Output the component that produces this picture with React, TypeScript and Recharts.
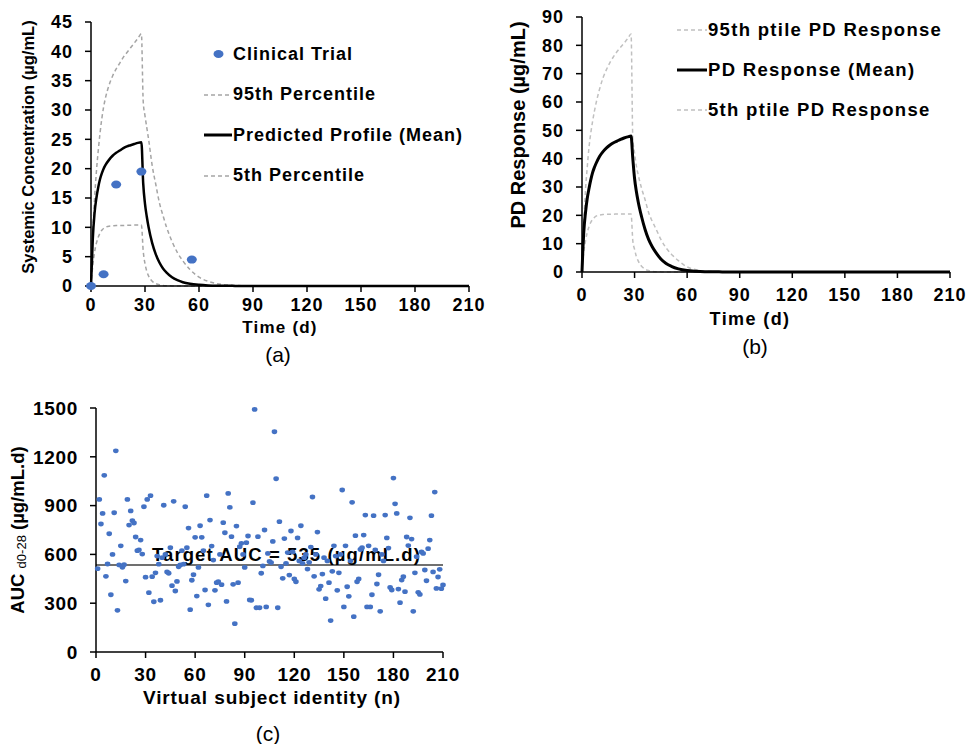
import React from 'react';
import {
  ComposedChart,
  ScatterChart,
  Line,
  Scatter,
  XAxis,
  YAxis,
  ReferenceLine,
  Legend,
} from 'recharts';

const FONT = '"Liberation Sans", Arial, Helvetica, sans-serif';
const BLUE = '#4472c4';

// time grid (days) shared by the simulated profiles in (a) and (b)
const timeDays = [
  0, 0.5, 1, 2, 3, 4, 5, 6, 7, 8, 10, 12, 14, 16, 18, 20, 22, 24, 26, 28,
  29, 30, 31, 32, 34, 36, 38, 40, 42, 45, 48, 51, 55, 60, 65, 70, 80, 90, 120, 150, 180, 210,
];

// (a) systemic concentration, µg/mL
const concMean = [
  0, 4, 8, 12.5, 15, 16.8, 18.2, 19.2, 20, 20.6, 21.5, 22.2, 22.7, 23.1, 23.5, 23.8, 24, 24.2, 24.4, 24.5,
  17.5, 14, 11.8, 10, 7.3, 5.4, 4, 3, 2.3, 1.5, 1, 0.65, 0.38, 0.2, 0.1, 0.05, 0.02, 0.01, 0, 0, 0, 0,
];
const conc95 = [
  0, 5, 9, 15, 19.5, 23, 26, 28.5, 30.5, 32, 34.2, 35.8, 37, 38, 39, 39.8, 40.6, 41.4, 42.2, 43,
  31.5, 29, 27, 25, 20.5, 17.3, 14.2, 12, 10, 7.6, 5.7, 4.3, 2.8, 1.5, 0.8, 0.4, 0.1, 0.03, 0, 0, 0, 0,
];
const conc5 = [
  0, 2, 3.5, 5.8, 7.3, 8.3, 9, 9.5, 9.8, 10, 10.2, 10.25, 10.3, 10.3, 10.3, 10.35, 10.35, 10.4, 10.4, 10.4,
  6, 3.8, 2.5, 1.7, 0.8, 0.4, 0.2, 0.1, 0.05, 0.02, 0, 0, 0, 0, 0, 0, 0, 0, 0, 0, 0, 0,
];
const trialDays = [0, 7, 14, 28, 56];
const trialConc = [0, 2, 17.3, 19.5, 4.5];

// (b) PD response, µg/mL
const pdMean = [
  0, 8, 14, 21, 26, 29.5, 32.5, 35, 36.8, 38.3, 40.8, 42.5, 43.8, 44.8, 45.6, 46.2, 46.8, 47.3, 47.7, 48,
  40, 33, 28.5, 25, 19.5, 15, 11.5, 9, 7, 4.6, 3, 2, 1.1, 0.5, 0.25, 0.12, 0.04, 0.01, 0, 0, 0, 0,
];
const pd95 = [
  0, 10, 17, 29, 37, 44, 49, 53, 56.5, 59.5, 64.5, 68.5, 71.5, 74, 76, 77.8, 79.3, 80.8, 82.3, 84,
  47, 42, 37.5, 34.5, 29.5, 25.5, 21, 18, 15.5, 11.5, 8.5, 6.3, 4, 1.8, 0.8, 0.3, 0.05, 0, 0, 0, 0, 0,
];
const pd5 = [
  0, 4, 7, 11, 14, 16, 17.5, 18.5, 19.2, 19.7, 20.1, 20.3, 20.4, 20.4, 20.4, 20.5, 20.5, 20.5, 20.5, 20.5,
  11, 8, 5.5, 4, 2, 1, 0.5, 0.25, 0.1, 0.05, 0, 0, 0, 0, 0, 0, 0, 0, 0, 0, 0, 0,
];

// (c) AUC d0-28 per virtual subject (subject n = index + 1)
const aucValues = [
  512, 938, 787, 852, 1086, 465, 541, 727, 352, 600, 856, 1237, 256, 535, 653, 521, 537, 436, 938, 780,
  867, 807, 793, 707, 623, 627, 688, 602, 893, 460, 938, 365, 961, 463, 309, 487, 590, 540, 318, 580,
  902, 600, 492, 484, 641, 408, 926, 375, 434, 524, 535, 623, 540, 893, 641, 762, 260, 441, 475, 705,
  344, 520, 776, 705, 623, 381, 961, 290, 811, 651, 565, 379, 426, 432, 600, 414, 795, 733, 311, 975,
  889, 709, 416, 174, 774, 426, 647, 668, 600, 520, 672, 713, 320, 318, 918, 1491, 272, 709, 272, 484,
  529, 750, 277, 606, 557, 550, 680, 1354, 1065, 272, 801, 524, 453, 697, 545, 611, 473, 744, 615, 449,
  432, 701, 560, 776, 545, 580, 600, 510, 551, 645, 953, 465, 600, 737, 385, 405, 479, 580, 328, 560,
  426, 193, 496, 653, 590, 379, 487, 600, 996, 277, 653, 401, 342, 560, 920, 217, 715, 432, 449, 630,
  641, 719, 842, 277, 653, 277, 352, 838, 627, 418, 475, 250, 600, 560, 842, 701, 639, 397, 381, 1069,
  911, 852, 387, 303, 442, 463, 371, 707, 654, 825, 694, 250, 487, 586, 367, 354, 615, 606, 504, 438,
  635, 688, 838, 492, 983, 391, 461, 508, 389, 412,
];
const targetAuc = 535;

const timeTicks = [0, 30, 60, 90, 120, 150, 180, 210];
const concTicks = [0, 5, 10, 15, 20, 25, 30, 35, 40, 45];
const pdTicks = [0, 10, 20, 30, 40, 50, 60, 70, 80, 90];
const aucTicks = [0, 300, 600, 900, 1200, 1500];

const concData = timeDays.map((t, i) => ({ t, mean: concMean[i], p95: conc95[i], p5: conc5[i] }));
const trialData = trialDays.map((t, i) => ({ t, c: trialConc[i] }));
const pdData = timeDays.map((t, i) => ({ t, mean: pdMean[i], p95: pd95[i], p5: pd5[i] }));
const aucData = aucValues.map((v, i) => ({ n: i + 1, auc: v }));

const tickStyle = (size: number, ls: number) => ({
  fontSize: size,
  fontWeight: 700,
  fill: '#000',
  fontFamily: FONT,
  letterSpacing: ls,
});

type LegendItem = { label: string; kind: 'dot' | 'dash' | 'solid'; color: string };

const makeLegend = (items: LegendItem[], rowH: number, markW: number, fontSize: number, ls: number) => () =>
  (
    <div style={{ fontFamily: FONT }}>
      {items.map((it) => (
        <div key={it.label} style={{ display: 'flex', alignItems: 'center', height: rowH }}>
          <svg width={markW} height={12} style={{ flex: 'none' }}>
            {it.kind === 'dot' ? (
              <ellipse cx={markW / 2} cy={6} rx={5} ry={4} fill={it.color} />
            ) : (
              <line
                x1={0}
                x2={markW - 1}
                y1={6}
                y2={6}
                stroke={it.color}
                strokeWidth={it.kind === 'solid' ? 3 : 1.5}
                strokeDasharray={it.kind === 'dash' ? '4 3' : undefined}
              />
            )}
          </svg>
          <span style={{ fontSize, fontWeight: 700, letterSpacing: ls, whiteSpace: 'nowrap', color: '#000' }}>
            {it.label}
          </span>
        </div>
      ))}
    </div>
  );

const concLegend = makeLegend(
  [
    { label: 'Clinical Trial', kind: 'dot', color: BLUE },
    { label: '95th Percentile', kind: 'dash', color: '#a5a5a5' },
    { label: 'Predicted Profile (Mean)', kind: 'solid', color: '#000' },
    { label: '5th Percentile', kind: 'dash', color: '#a5a5a5' },
  ],
  40.5,
  29,
  18,
  1
);

const pdLegend = makeLegend(
  [
    { label: '95th ptile PD Response', kind: 'dash', color: '#c0c0c0' },
    { label: 'PD Response (Mean)', kind: 'solid', color: '#000' },
    { label: '5th ptile PD Response', kind: 'dash', color: '#c0c0c0' },
  ],
  40,
  31,
  18.5,
  1.3
);

const Title = ({ x, y, size, rotate, children, weight = 700, ls = 0 }: any) => (
  <div
    style={{
      position: 'absolute',
      left: x,
      top: y,
      transform: `translate(-50%, -50%)${rotate ? ' rotate(-90deg)' : ''}`,
      fontFamily: FONT,
      fontSize: size,
      fontWeight: weight,
      letterSpacing: ls,
      lineHeight: 1,
      whiteSpace: 'nowrap',
      color: '#000',
    }}
  >
    {children}
  </div>
);

const TargetLabel = (props: any) => {
  const vb = props.viewBox || {};
  return (
    <text
      x={vb.x + vb.width / 2 + 17}
      y={vb.y - 4}
      textAnchor="middle"
      fontFamily={FONT}
      fontSize={18.5}
      fontWeight={700}
      letterSpacing={1.1}
      fill="#000"
    >
      {`Target AUC = ${targetAuc} (µg/mL.d)`}
    </text>
  );
};

const axisProps = { stroke: '#000', strokeWidth: 1.5 };

export default function App() {
  return (
    <div style={{ position: 'absolute', left: 0, top: 0, width: 968, height: 744, background: '#fff', overflow: 'hidden' }}>
      {/* (a) */}
      <div style={{ position: 'absolute', left: 0, top: 0, width: 490, height: 340 }}>
        <ComposedChart
          width={490}
          height={340}
          data={concData}
          margin={{ top: 22, right: 21, left: 0, bottom: 0 }}
          style={{ overflow: 'visible' }}
        >
          <XAxis
            dataKey="t"
            type="number"
            domain={[0, 210]}
            ticks={timeTicks}
            height={54}
            axisLine={axisProps}
            tickLine={axisProps}
            tickSize={6}
            tickMargin={6}
            tick={tickStyle(18, 1)}
            interval={0}
          />
          <YAxis
            type="number"
            domain={[0, 45]}
            ticks={concTicks}
            width={91}
            axisLine={axisProps}
            tickLine={axisProps}
            tickSize={6}
            tickMargin={12}
            tick={tickStyle(18, 1)}
            interval={0}
          />
          <Legend
            layout="vertical"
            align="center"
            verticalAlign="middle"
            content={concLegend}
            wrapperStyle={{ top: 34, left: 204, width: 280, height: 170 }}
          />
          <Line dataKey="p95" type="monotone" stroke="#a5a5a5" strokeWidth={1.5} strokeDasharray="4 3" dot={false} isAnimationActive={false} />
          <Line dataKey="p5" type="monotone" stroke="#a5a5a5" strokeWidth={1.5} strokeDasharray="4 3" dot={false} isAnimationActive={false} />
          <Line dataKey="mean" type="monotone" stroke="#000" strokeWidth={2.5} dot={false} isAnimationActive={false} />
          <Scatter
            data={trialData}
            dataKey="c"
            fill={BLUE}
            isAnimationActive={false}
            shape={(p: any) => <ellipse cx={p.cx} cy={p.cy} rx={5} ry={4} fill={BLUE} />}
          />
        </ComposedChart>
      </div>
      <Title x={28} y={147} size={16.5} rotate>
        Systemic Concentration (µg/mL)
      </Title>
      <Title x={280} y={327} size={17} ls={1.2}>
        Time (d)
      </Title>
      <Title x={278} y={354} size={21} weight={400}>
        (a)
      </Title>

      {/* (b) */}
      <div style={{ position: 'absolute', left: 490, top: 0, width: 478, height: 330 }}>
        <ComposedChart width={478} height={330} data={pdData} margin={{ top: 17, right: 18, left: 0, bottom: 0 }}>
          <XAxis
            dataKey="t"
            type="number"
            domain={[0, 210]}
            ticks={timeTicks}
            height={58}
            axisLine={axisProps}
            tickLine={axisProps}
            tickSize={6}
            tickMargin={10}
            tick={tickStyle(18, 1)}
            interval={0}
          />
          <YAxis
            type="number"
            domain={[0, 90]}
            ticks={pdTicks}
            width={92}
            axisLine={axisProps}
            tickLine={axisProps}
            tickSize={6}
            tickMargin={12}
            tick={tickStyle(18, 1)}
            interval={0}
          />
          <Legend
            layout="vertical"
            align="center"
            verticalAlign="middle"
            content={pdLegend}
            wrapperStyle={{ top: 10, left: 187, width: 290, height: 125 }}
          />
          <Line dataKey="p95" type="monotone" stroke="#c0c0c0" strokeWidth={1.5} strokeDasharray="4 3" dot={false} isAnimationActive={false} />
          <Line dataKey="p5" type="monotone" stroke="#c0c0c0" strokeWidth={1.5} strokeDasharray="4 3" dot={false} isAnimationActive={false} />
          <Line dataKey="mean" type="monotone" stroke="#000" strokeWidth={3} dot={false} isAnimationActive={false} />
        </ComposedChart>
      </div>
      <Title x={518} y={125} size={20} rotate>
        PD Response (µg/mL)
      </Title>
      <Title x={750} y={319} size={18} ls={1.4}>
        Time (d)
      </Title>
      <Title x={755} y={346} size={21} weight={400}>
        (b)
      </Title>

      {/* (c) */}
      <div style={{ position: 'absolute', left: 0, top: 380, width: 460, height: 320 }}>
        <ScatterChart width={460} height={320} margin={{ top: 28, right: 17, left: 0, bottom: 0 }}>
          <XAxis
            dataKey="n"
            type="number"
            domain={[0, 210]}
            ticks={timeTicks}
            height={48}
            axisLine={axisProps}
            tickLine={axisProps}
            tickSize={6}
            tickMargin={10}
            tick={tickStyle(19, 0.7)}
            interval={0}
          />
          <YAxis
            dataKey="auc"
            type="number"
            domain={[0, 1500]}
            ticks={aucTicks}
            width={96}
            axisLine={axisProps}
            tickLine={axisProps}
            tickSize={6}
            tickMargin={12}
            tick={tickStyle(19, 0.7)}
            interval={0}
          />
          <Scatter
            data={aucData}
            fill={BLUE}
            isAnimationActive={false}
            shape={(p: any) => <ellipse cx={p.cx} cy={p.cy} rx={2.8} ry={2.4} fill={BLUE} />}
          />
          <ReferenceLine y={targetAuc} stroke="#404040" strokeWidth={1.5} label={<TargetLabel />} />
        </ScatterChart>
      </div>
      <Title x={18} y={530} size={18.5} rotate>
        AUC <span style={{ fontSize: 13, fontWeight: 400, position: 'relative', top: 2 }}>d0-28</span> (µg/mL.d)
      </Title>
      <Title x={272} y={697} size={19} ls={0.9}>
        Virtual subject identity (n)
      </Title>
      <Title x={268} y={733} size={21} weight={400}>
        (c)
      </Title>
    </div>
  );
}
